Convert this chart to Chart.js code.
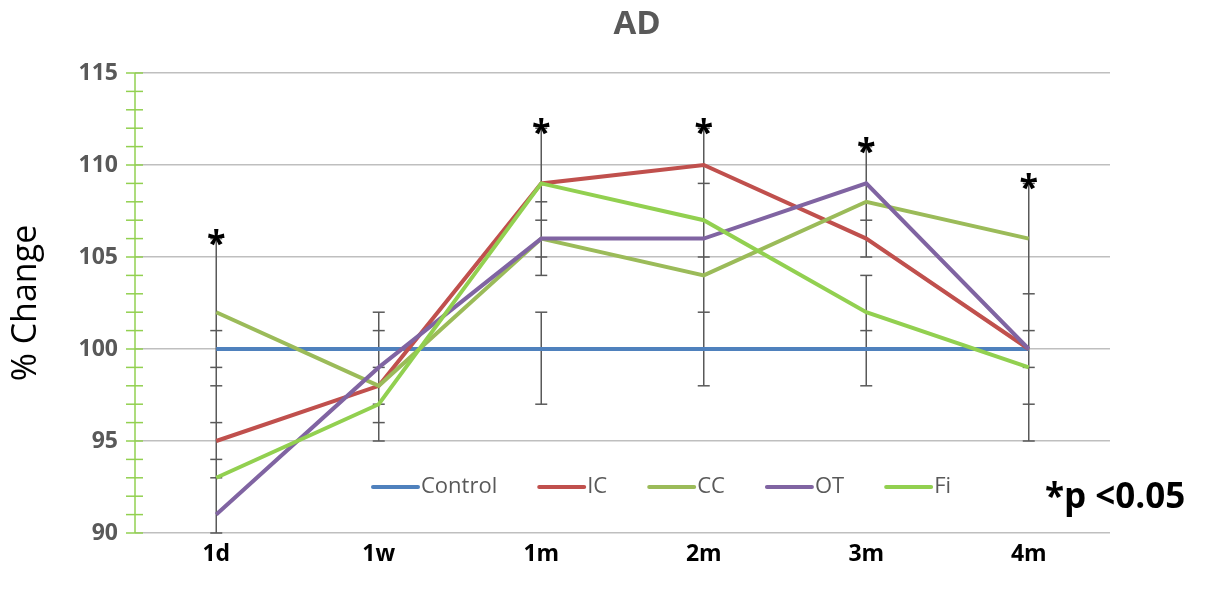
<!DOCTYPE html>
<html>
<head>
<meta charset="utf-8">
<script src="https://cdn.jsdelivr.net/npm/chart.js@4.4.0/dist/chart.umd.min.js"></script>
<style>
  html, body { margin: 0; padding: 0; background: #fff; }
  #wrap { width: 1205px; height: 596px; }
</style>
</head>
<body>
<div id="wrap"><canvas id="adChart" width="1205" height="596"></canvas></div>
<script>
// categories + series
const labels = ['1d', '1w', '1m', '2m', '3m', '4m'];
const control = [100, 100, 100, 100, 100, 100];
const ic = [95, 98, 109, 110, 106, 100];
const cc = [102, 98, 106, 104, 108, 106];
const ot = [91, 99, 106, 106, 109, 100];
const fi = [93, 97, 109, 107, 102, 99];

// error bars, per category: vertical segments [low, high] and cap values
const errSegments = [
  [[90, 106]],
  [[95, 102]],
  [[104, 112], [97, 102]],
  [[98, 112]],
  [[105, 111], [98, 104]],
  [[95, 109]]
];
const errCaps = [
  [106, 101, 99, 98, 96, 94, 93, 90],
  [102, 101, 99, 97, 96, 95],
  [112, 108, 107, 105, 104, 102, 97],
  [112, 109, 105, 102, 98],
  [111, 107, 105, 104, 101, 98],
  [109, 103, 101, 99, 97, 95]
];
const significant = [true, false, true, true, true, true];
const yTicks = [90, 95, 100, 105, 110, 115];

const FONT = '"Open Sans", "Liberation Sans", sans-serif';
const colors = {
  control: '#4F81BD',
  ic: '#C0504D',
  cc: '#9BBB59',
  ot: '#8064A2',
  fi: '#92D050'
};

function series(label, data, color, order) {
  return {
    label: label,
    data: data,
    borderColor: color,
    backgroundColor: color,
    borderWidth: 4,
    pointRadius: 0,
    tension: 0,
    fill: false,
    order: order
  };
}

// error bars under the lines
const errorBars = {
  id: 'errorBars',
  beforeDatasetsDraw(chart) {
    const { ctx, scales: { x, y } } = chart;
    ctx.save();
    ctx.strokeStyle = '#595959';
    ctx.lineWidth = 1.5;
    labels.forEach((lab, i) => {
      const px = x.getPixelForValue(i);
      errSegments[i].forEach(seg => {
        ctx.beginPath();
        ctx.moveTo(px, y.getPixelForValue(seg[0]));
        ctx.lineTo(px, y.getPixelForValue(seg[1]));
        ctx.stroke();
      });
      errCaps[i].forEach(v => {
        const py = y.getPixelForValue(v);
        ctx.beginPath();
        ctx.moveTo(px - 6, py);
        ctx.lineTo(px + 6, py);
        ctx.stroke();
      });
    });
    ctx.restore();
  }
};

// green y axis with minor ticks, title, stars, legend, p-value note
const decorations = {
  id: 'decorations',
  afterDraw(chart) {
    const { ctx, chartArea, scales: { x, y } } = chart;
    ctx.save();

    // y axis line + ticks
    ctx.strokeStyle = '#92D050';
    ctx.lineWidth = 1.5;
    ctx.beginPath();
    ctx.moveTo(chartArea.left, y.getPixelForValue(115));
    ctx.lineTo(chartArea.left, y.getPixelForValue(90));
    ctx.stroke();
    for (let v = 90; v <= 115; v++) {
      const py = y.getPixelForValue(v);
      ctx.beginPath();
      ctx.moveTo(chartArea.left - 9, py);
      ctx.lineTo(chartArea.left + 8, py);
      ctx.stroke();
    }

    // title
    ctx.fillStyle = '#595959';
    ctx.font = 'bold 33px ' + FONT;
    ctx.textAlign = 'center';
    ctx.textBaseline = 'middle';
    ctx.fillText('AD', 637, 25);

    // significance stars
    ctx.fillStyle = '#000';
    ctx.font = 'bold 34px ' + FONT;
    ctx.textBaseline = 'alphabetic';
    labels.forEach((lab, i) => {
      if (!significant[i]) return;
      const top = Math.max(...errCaps[i]);
      ctx.fillText('*', x.getPixelForValue(i), y.getPixelForValue(top) + 16);
    });

    // p-value note
    ctx.font = 'bold 35px ' + FONT;
    ctx.textAlign = 'left';
    ctx.textBaseline = 'middle';
    ctx.fillText('*p <0.05', 1045, 498);

    // legend inside plot
    ctx.font = '22px ' + FONT;
    ctx.textBaseline = 'middle';
    let lx = 373;
    const ly = 487;
    chart.data.datasets.forEach(ds => {
      ctx.strokeStyle = ds.borderColor;
      ctx.lineWidth = 4;
      ctx.lineCap = 'round';
      ctx.beginPath();
      ctx.moveTo(lx, ly);
      ctx.lineTo(lx + 45, ly);
      ctx.stroke();
      ctx.fillStyle = '#595959';
      ctx.fillText(ds.label, lx + 48, ly);
      lx += 48 + ctx.measureText(ds.label).width + 42;
    });

    ctx.restore();
  }
};

const ctx = document.getElementById('adChart').getContext('2d');
new Chart(ctx, {
  type: 'line',
  data: {
    labels: labels,
    datasets: [
      series('Control', control, colors.control, 5),
      series('IC', ic, colors.ic, 4),
      series('CC', cc, colors.cc, 3),
      series('OT', ot, colors.ot, 2),
      series('Fi', fi, colors.fi, 1)
    ]
  },
  options: {
    responsive: false,
    animation: false,
    layout: { padding: { top: 73, right: 95, bottom: 0, left: 0 } },
    plugins: {
      legend: { display: false },
      title: { display: false },
      tooltip: { enabled: false }
    },
    scales: {
      x: {
        offset: true,
        grid: { display: false, drawTicks: false },
        border: { display: false },
        ticks: {
          color: '#000',
          padding: 8,
          font: { family: FONT, size: 23, weight: 'bold' }
        },
        afterFit(scale) { scale.height = 63; }
      },
      y: {
        min: 90,
        max: 115,
        afterBuildTicks(scale) { scale.ticks = yTicks.map(v => ({ value: v })); },
        grid: { color: '#BFBFBF', lineWidth: 1.5, drawTicks: false },
        border: { display: false },
        ticks: {
          color: '#595959',
          padding: 17,
          font: { family: FONT, size: 23, weight: 'bold' }
        },
        title: {
          display: true,
          text: '% Change',
          color: '#000',
          padding: { top: 6, bottom: 0 },
          font: { family: FONT, size: 34 }
        },
        afterFit(scale) { scale.width = 135; }
      }
    }
  },
  plugins: [errorBars, decorations]
});
</script>
</body>
</html>
